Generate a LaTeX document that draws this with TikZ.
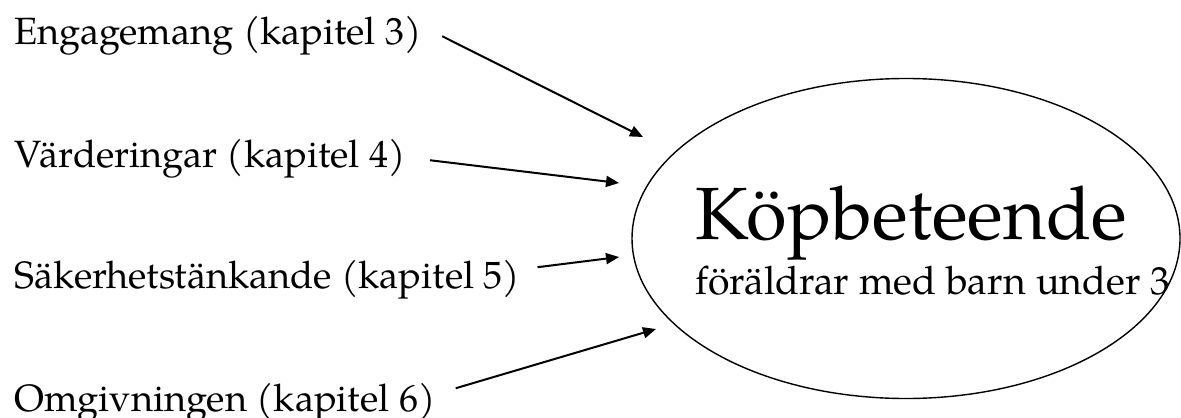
\documentclass[tikz,border=0pt]{standalone}
\usepackage{fontspec}
\setmainfont{TeX Gyre Pagella}
\usetikzlibrary{shapes.geometric,arrows.meta}

\begin{document}
\begin{tikzpicture}[
  x=0.5pt, y=-0.5pt,
  font=\fontsize{19}{22}\selectfont,
  lbl/.style={anchor=base west, inner sep=0pt},
  arr/.style={-{Triangle[length=6.5pt,width=5.5pt]}, line width=1pt},
]
\useasboundingbox (0,0) rectangle (1181,417);
\node[draw, ellipse, line width=0.7pt, minimum width=274pt, minimum height=160pt,
      inner sep=0pt] (kop) at (906,238.5) {};
\node[lbl, font=\fontsize{37}{42}\selectfont] (title) at (695,239) {Köpbeteende};
\node[lbl, font=\fontsize{19.6}{22}\selectfont] (sub) at (695,294.5) {föräldrar med barn under 3};
\node[lbl] (eng) at (14,45) {Engagemang (kapitel 3)};
\node[lbl] (var) at (14,167) {Värderingar (kapitel 4)};
\node[lbl] (sak) at (14,288) {Säkerhetstänkande (kapitel 5)};
\node[lbl] (omg) at (14,411) {Omgivningen (kapitel 6)};
\coordinate (in3) at (643,137);
\coordinate (in4) at (619,183);
\coordinate (in5) at (619,257);
\coordinate (in6) at (656,329);
\draw[arr] ([shift={(20,0)}]eng.east) -- (in3);
\draw[arr] ([shift={(24,2)}]var.east) -- (in4);
\draw[arr] ([shift={(17,-12)}]sak.east) -- (in5);
\draw[arr] ([shift={(20,-14)}]omg.east) -- (in6);
\end{tikzpicture}
\end{document}
